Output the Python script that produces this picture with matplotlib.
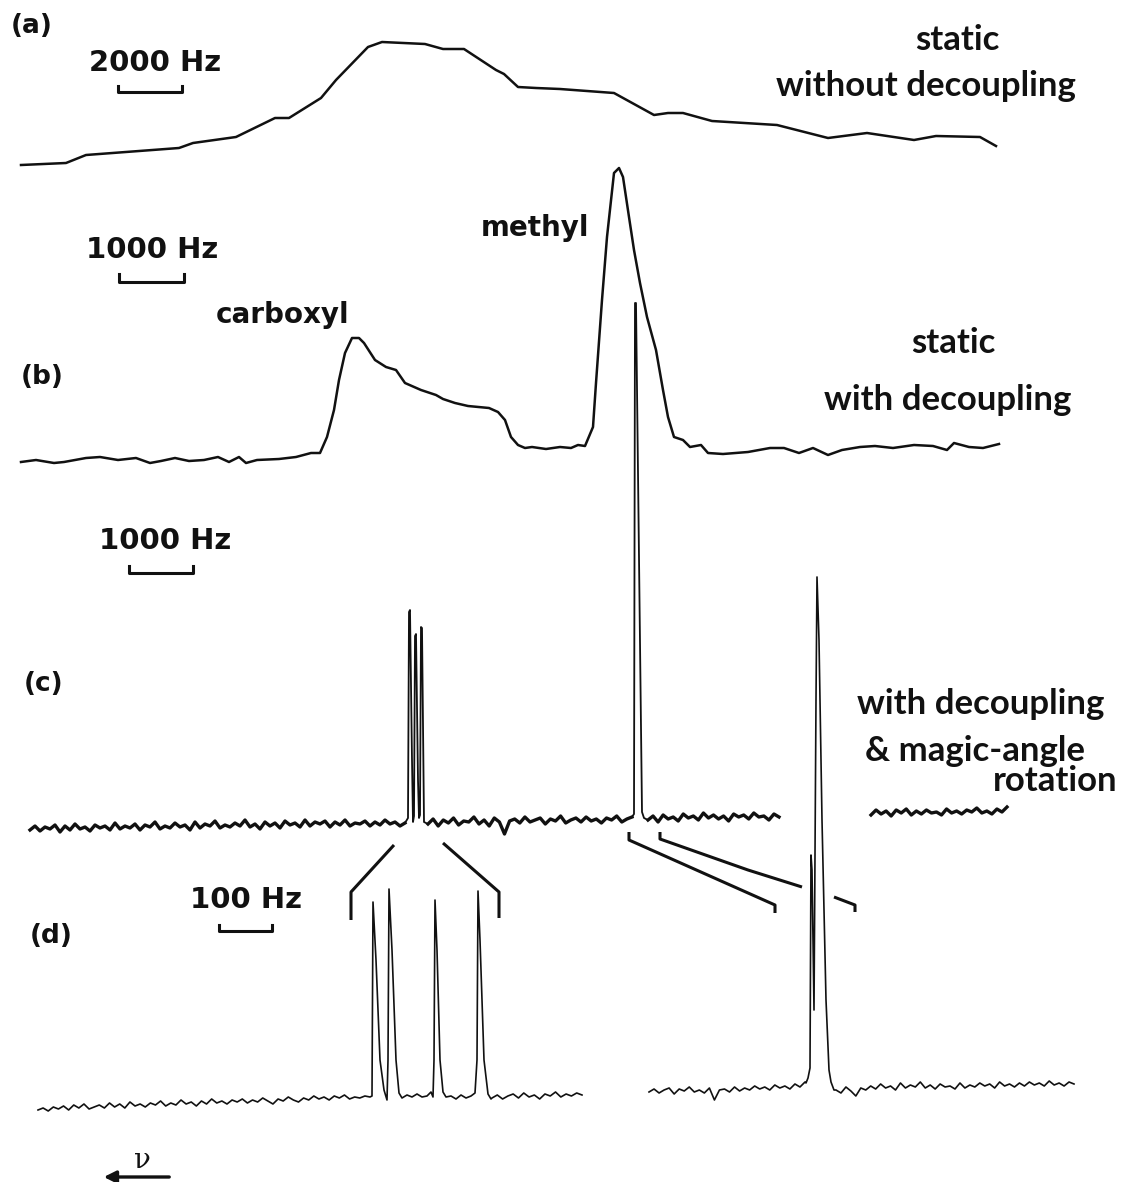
import numpy as np
import matplotlib.pyplot as plt

# --- 1. DATA (pixel units: x to the right, y downwards) ---

# (a) static, without decoupling
a_x = [21, 66, 86, 179, 193, 236, 275, 289, 321, 336, 368, 382, 425, 443, 464, 496, 504, 518,
       536, 560, 614, 654, 668, 683, 712, 777, 828, 867, 914, 936, 980, 996]
a_y = [165, 163, 155, 148, 143, 137, 118, 118, 98, 80, 47, 42, 44, 49, 49, 70, 74, 87,
       88, 89, 93, 115, 113, 113, 121, 125, 138, 133, 140, 136, 137, 146]

# (b) static, with decoupling
b_x = [21, 36, 54, 64, 86, 100, 118, 136, 150, 161, 175, 189, 204, 218, 229, 239, 246, 257, 279,
       296, 311, 320, 327, 334, 339, 345, 352, 359, 364, 375, 386, 396, 405, 421, 436, 443, 455,
       468, 489, 498, 505, 511, 518, 525, 532, 546, 560, 571, 578, 585, 593, 596, 602, 607, 614,
       619, 623, 629, 634, 640, 647, 656, 663, 668, 674, 683, 690, 701, 708, 723, 748, 770, 784,
       799, 813, 828, 842, 860, 875, 893, 914, 933, 947, 954, 969, 983, 999]
b_y = [462, 460, 463, 462, 458, 457, 460, 458, 463, 461, 458, 461, 460, 457, 462, 457, 463, 460, 459,
       457, 453, 453, 437, 410, 380, 353, 338, 338, 343, 360, 367, 370, 383, 390, 395, 399, 403,
       406, 408, 412, 420, 437, 445, 448, 447, 449, 447, 448, 445, 446, 427, 383, 300, 237, 173,
       168, 177, 217, 250, 283, 317, 350, 390, 417, 437, 440, 447, 445, 453, 454, 452, 448, 448,
       453, 448, 455, 450, 447, 446, 448, 445, 446, 450, 443, 447, 448, 444]

# (c) magic-angle rotation: noisy baseline pieces + peaks
c_noise1 = [830, 826, 831, 827, 829, 825, 832, 826, 830, 824, 829, 827, 831, 825, 828, 826, 830, 823,
            829, 826, 828, 824, 830, 825, 827, 822, 829, 826, 828, 823, 827, 825, 830, 822, 828, 824,
            826, 821, 828, 825, 827, 823, 826, 820, 827, 824, 829, 822, 826, 823, 828, 821, 825, 823,
            827, 820, 826, 822, 824, 821, 827, 822, 825, 820, 826, 823, 824, 821, 826, 822, 825, 820,
            824, 822, 826, 823]
c_carb_x = [405, 408, 409, 410, 412, 413, 414, 415, 416, 418, 419, 420, 421, 422, 424, 428]
c_carb_y = [823, 818, 612, 610, 760, 822, 816, 636, 634, 780, 818, 815, 627, 628, 822, 824]
c_noise2 = [824, 819, 826, 820, 823, 818, 825, 821, 822, 817, 824, 820, 826, 818, 822, 834, 821,
            819, 823, 817, 822, 820, 818, 824, 819, 821, 816, 823, 820, 818, 822, 817, 821, 819,
            823, 818, 820, 816, 822, 819, 817]
c_meth_x = [632, 634, 635, 636, 642, 644, 648]
c_meth_y = [817, 814, 303, 303, 812, 818, 820]
c_noise3 = [820, 816, 822, 815, 819, 817, 821, 814, 818, 816, 820, 813, 818, 815, 819, 816, 821,
            814, 817, 815, 819, 813, 817, 816, 820, 814, 817]
c_noise4 = [815, 810, 814, 811, 816, 810, 813, 809, 815, 811, 814, 810, 813, 812, 815, 809, 813,
            811, 814, 810, 812, 808, 813, 811, 814, 809, 812, 807]

# (d) expanded: carboxyl quartet (left) and methyl doublet (right)
d_noise1 = [1110, 1108, 1111, 1107, 1109, 1106, 1110, 1105, 1108, 1104, 1109, 1107, 1105, 1108, 1103,
            1107, 1104, 1108, 1102, 1106, 1104, 1107, 1103, 1105, 1101, 1106, 1103, 1105, 1100, 1104,
            1102, 1106, 1101, 1104, 1099, 1103, 1101, 1104, 1100, 1102, 1099, 1103, 1100, 1102, 1098,
            1101, 1104, 1099, 1101, 1097, 1100, 1102, 1098, 1100, 1096, 1099, 1097, 1100, 1096, 1098,
            1095, 1099, 1097, 1098, 1096, 1097]
d_carb_x = [370, 372, 373, 376, 380, 384, 387, 388, 389, 392, 396, 399, 402, 407, 412, 417, 422, 427,
            431, 433, 434, 435, 437, 440, 443, 446, 451, 456, 461, 466, 471, 475, 477, 478, 480, 484,
            488, 491]
d_carb_y = [1097, 1096, 902, 960, 1060, 1090, 1100, 1060, 889, 950, 1060, 1093, 1098, 1095, 1097, 1094,
            1097, 1096, 1092, 1097, 1060, 900, 950, 1060, 1092, 1097, 1096, 1099, 1095, 1098, 1096,
            1093, 1060, 891, 940, 1060, 1094, 1099]
d_noise2 = [1098, 1095, 1099, 1096, 1094, 1098, 1093, 1097, 1095, 1099, 1094, 1096, 1092, 1097, 1094,
            1096, 1093, 1095]
d_noise3 = [1092, 1089, 1093, 1090, 1088, 1094, 1089, 1091, 1087, 1092, 1090, 1093, 1088, 1100, 1090,
            1089, 1092, 1087, 1091, 1088, 1090, 1086, 1089, 1087, 1090, 1085, 1088, 1086, 1089, 1084,
            1087, 1082]
d_meth_x = [806, 808, 810, 811, 812, 814, 816, 817, 819, 822, 826, 829, 831, 834]
d_meth_y = [1083, 1078, 1068, 855, 870, 1010, 700, 577, 640, 820, 1000, 1070, 1082, 1090]
d_noise4 = [1090, 1093, 1087, 1091, 1096, 1088, 1090, 1086, 1089, 1084, 1088, 1086, 1090, 1083, 1088,
            1085, 1087, 1082, 1088, 1085, 1089, 1084, 1087, 1086, 1089, 1083, 1088, 1085, 1087, 1083,
            1086, 1084, 1088, 1082, 1086, 1084, 1087, 1083, 1086, 1082, 1085, 1083, 1086, 1081, 1085,
            1083, 1086, 1082, 1084]

# x ranges of the noisy baseline pieces
noise_spans = {
    'c1': (30, 405), 'c2': (428, 632), 'c3': (648, 779), 'c4': (871, 1007),
    'd1': (38, 370), 'd2': (492, 582), 'd3': (649, 805), 'd4': (836, 1074),
}

# scale bars: (x left, x right, y bar, y tick top)
scale_bars = [(118, 182, 92, 86), (119, 184, 282, 274), (129, 193, 573, 566), (219, 272, 931, 925)]
scale_texts = ['2000 Hz', '1000 Hz', '1000 Hz', '100 Hz']
scale_text_pos = [(155, 63), (152, 250), (165, 541), (246, 900)]

# expansion brackets from (c) to (d)
brackets = [
    ([394, 351, 351], [845, 892, 920]),
    ([443, 499, 499], [843, 892, 918]),
    ([629, 629, 775, 775], [832, 840, 905, 913]),
    ([660, 660, 748, 802], [832, 839, 870, 887]),
    ([834, 855, 855], [897, 905, 912]),
]

panel_labels = ['(a)', '(b)', '(c)', '(d)']
panel_pos = [(32, 26), (42, 377), (44, 684), (51, 936)]

# --- 2. PLOT ---
fig = plt.figure(figsize=(11.27, 11.82), dpi=100)
ax = fig.add_axes([0, 0, 1, 1])
ax.set_xlim(0, 1127)
ax.set_ylim(1182, 0)
ax.axis('off')

ink = '#111111'

ax.plot(a_x, a_y, color=ink, lw=1.8, solid_joinstyle='round')
ax.plot(b_x, b_y, color=ink, lw=1.8, solid_joinstyle='round')


def noise(key, vals):
    x0, x1 = noise_spans[key]
    return np.linspace(x0, x1, len(vals)), np.array(vals)


# (c) trace - the recorder noise prints as a thick band, the lines are thin
for key, vals in [('c1', c_noise1), ('c2', c_noise2), ('c3', c_noise3), ('c4', c_noise4)]:
    nx, ny = noise(key, vals)
    ax.plot(nx, ny, color=ink, lw=2.4, solid_joinstyle='round')
ax.plot(c_carb_x, c_carb_y, color=ink, lw=1.3)
ax.plot(c_meth_x, c_meth_y, color=ink, lw=1.3)

# (d) traces
dx = np.concatenate([noise('d1', d_noise1)[0], d_carb_x, noise('d2', d_noise2)[0]])
dy = np.concatenate([d_noise1, d_carb_y, d_noise2])
ax.plot(dx, dy, color=ink, lw=1.2)
dx2 = np.concatenate([noise('d3', d_noise3)[0], d_meth_x, noise('d4', d_noise4)[0]])
dy2 = np.concatenate([d_noise3, d_meth_y, d_noise4])
ax.plot(dx2, dy2, color=ink, lw=1.2)

for bx, by in brackets:
    ax.plot(bx, by, color=ink, lw=2.2, solid_capstyle='butt')

for (xl, xr, yb, yt), txt, (tx, ty) in zip(scale_bars, scale_texts, scale_text_pos):
    ax.plot([xl, xl, xr, xr], [yt, yb, yb, yt], color=ink, lw=2.2)
    ax.text(tx, ty, txt, ha='center', va='center', fontsize=21, fontweight='bold',
            family='DejaVu Sans', color=ink)

for lab, (tx, ty) in zip(panel_labels, panel_pos):
    ax.text(tx, ty, lab, ha='center', va='center', fontsize=19, fontweight='bold',
            family='DejaVu Sans', color=ink)

ax.text(283, 315, 'carboxyl', ha='center', va='center', fontsize=20, fontweight='bold',
        family='DejaVu Sans', color=ink)
ax.text(535, 228, 'methyl', ha='center', va='center', fontsize=20, fontweight='bold',
        family='DejaVu Sans', color=ink)

# handwritten notes
hand = dict(ha='center', va='center', fontsize=25, fontweight='bold',
            family='Lato', color=ink)
ax.text(957, 40, 'static', **hand)
ax.text(926, 86, 'without decoupling', **hand)
ax.text(953, 343, 'static', **hand)
ax.text(948, 400, 'with decoupling', **hand)
ax.text(981, 704, 'with decoupling', **hand)
ax.text(975, 751, '& magic-angle', **hand)
ax.text(1055, 781, 'rotation', **hand)

# frequency arrow
ax.annotate('', xy=(101, 1177), xytext=(172, 1177),
            arrowprops=dict(arrowstyle='-|>', color=ink, lw=2.4, mutation_scale=18))
ax.text(142, 1160, 'ν', ha='center', va='center', fontsize=20, family='DejaVu Serif', color=ink)

fig.savefig('out.png', dpi=100)
